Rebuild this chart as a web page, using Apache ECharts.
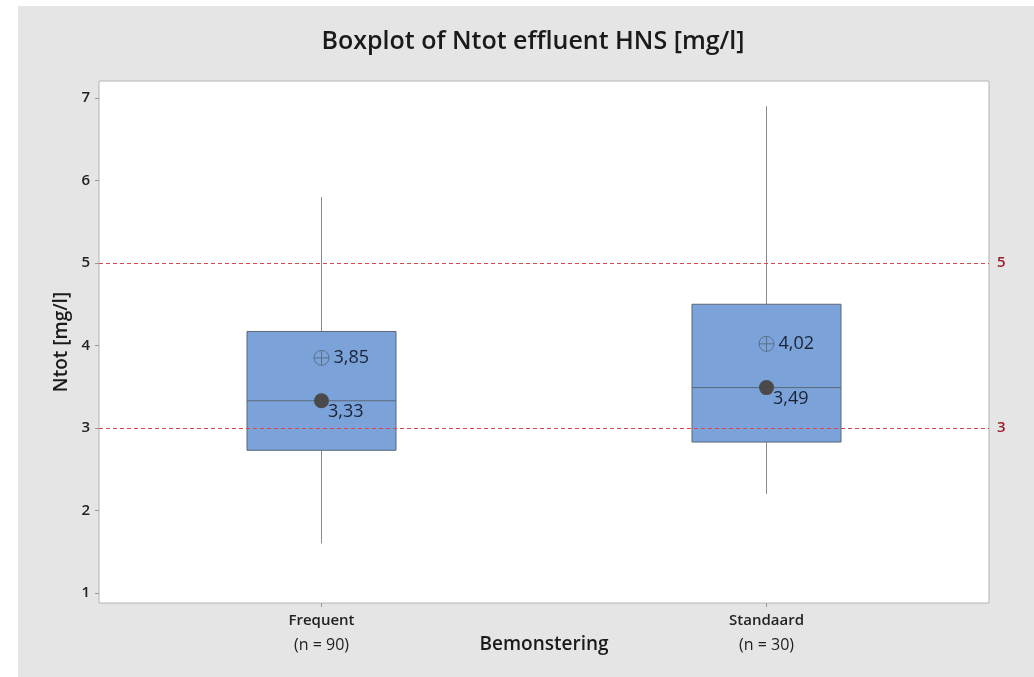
<!DOCTYPE html>
<html>
<head>
<meta charset="utf-8">
<script src="https://cdn.jsdelivr.net/npm/echarts@6.0.0/dist/echarts.min.js"></script>
<style>
  html, body { margin: 0; padding: 0; background: #ffffff; }
  #main { width: 1034px; height: 677px; }
</style>
</head>
<body>
<div id="main"></div>
<script>
// data
var groups = ['Frequent', 'Standaard'];
var counts = [90, 30];
// [min, Q1, median, Q3, max]
var boxData = [
  [1.6, 2.73, 3.33, 4.17, 5.8],
  [2.2, 2.83, 3.49, 4.5, 6.9]
];
var means = [3.85, 4.02];
var medians = [3.33, 3.49];
var refLines = [5, 3];
var yTicks = [1, 2, 3, 4, 5, 6, 7];

var font = "'Open Sans', 'Noto Sans', sans-serif";
var chart = echarts.init(document.getElementById('main'));

function comma(v) { return v.toFixed(2).replace('.', ','); }

// box drawn by hand so the whiskers have no end caps
function renderBox(params, api) {
  var x = api.value(0);
  var lo = api.coord([x, api.value(1)]);
  var q1 = api.coord([x, api.value(2)]);
  var med = api.coord([x, api.value(3)]);
  var q3 = api.coord([x, api.value(4)]);
  var hi = api.coord([x, api.value(5)]);
  var half = 74.5;
  var whisker = { stroke: '#8a8a8a', lineWidth: 1 };
  return {
    type: 'group',
    children: [
      { type: 'line', shape: { x1: hi[0], y1: hi[1], x2: q3[0], y2: q3[1] }, style: whisker },
      { type: 'line', shape: { x1: q1[0], y1: q1[1], x2: lo[0], y2: lo[1] }, style: whisker },
      {
        type: 'rect',
        shape: { x: q3[0] - half, y: q3[1], width: half * 2, height: q1[1] - q3[1] },
        style: { fill: '#7ba3d9', stroke: '#5b6678', lineWidth: 1 }
      },
      {
        type: 'line',
        shape: { x1: med[0] - half, y1: med[1], x2: med[0] + half, y2: med[1] },
        style: { stroke: '#5b6678', lineWidth: 1 }
      }
    ]
  };
}

var refSeries = refLines.map(function (v) {
  return {
    type: 'line',
    data: [],
    silent: true,
    markLine: {
      silent: true,
      symbol: 'none',
      animation: false,
      lineStyle: { type: [4, 3], color: '#e0464e', width: 1, opacity: 1 },
      label: {
        position: 'end', distance: 8,
        fontFamily: font, fontSize: 15, fontWeight: 600, color: '#9b1c2a',
        formatter: String(v)
      },
      data: [{ yAxis: v }]
    }
  };
});

var option = {
  backgroundColor: '#ffffff',
  animation: false,
  graphic: [{
    type: 'rect',
    z: -10,
    shape: { x: 18, y: 6, width: 1016, height: 671 },
    style: { fill: '#e5e5e5' }
  }],
  title: {
    text: 'Boxplot of Ntot effluent HNS [mg/l]',
    left: 528,
    textAlign: 'center',
    top: 24,
    textStyle: { fontFamily: font, fontSize: 25, fontWeight: 600, color: '#1a1a1a' }
  },
  grid: {
    left: 99, right: 45, top: 81, bottom: 74,
    outerBoundsMode: 'none',
    containLabel: false,
    show: true, backgroundColor: '#ffffff', borderColor: '#b4b4b4', borderWidth: 1
  },
  xAxis: {
    type: 'category',
    data: groups,
    axisLine: { show: false },
    axisTick: { show: true, alignWithLabel: true, length: 4, lineStyle: { color: '#999' } },
    axisLabel: {
      margin: 5,
      formatter: function (v, i) { return '{a|' + v + '}\n{b|(n = ' + counts[i] + ')}'; },
      rich: {
        a: { fontFamily: font, fontSize: 15, fontWeight: 600, color: '#222', lineHeight: 25 },
        b: { fontFamily: font, fontSize: 16, color: '#222', lineHeight: 25 }
      }
    },
    name: 'Bemonstering',
    nameLocation: 'middle',
    nameGap: 32,
    nameMoveOverlap: false,
    nameTextStyle: { fontFamily: font, fontSize: 19, fontWeight: 600, color: '#1a1a1a' }
  },
  yAxis: {
    type: 'value',
    min: 0.879,
    max: 7.206,
    splitLine: { show: false },
    axisLine: { show: false },
    axisTick: { show: true, length: 4, customValues: yTicks, lineStyle: { color: '#999' } },
    axisLabel: {
      customValues: yTicks, margin: 9,
      fontFamily: font, fontSize: 15, fontWeight: 600, color: '#222'
    },
    name: 'Ntot [mg/l]',
    nameLocation: 'middle',
    nameGap: 28,
    nameMoveOverlap: false,
    nameTextStyle: { fontFamily: font, fontSize: 19, fontWeight: 600, color: '#1a1a1a' }
  },
  series: [
    {
      type: 'custom',
      renderItem: renderBox,
      data: boxData.map(function (b, i) { return [i].concat(b); }),
      encode: { x: 0, y: [1, 2, 3, 4, 5] }
    }
  ].concat(refSeries).concat([
    {
      type: 'scatter',
      data: medians.map(function (v, i) { return [i, v]; }),
      symbol: 'circle',
      symbolSize: 15,
      itemStyle: { color: '#4a4a4a', opacity: 1 },
      label: {
        show: true, position: 'right', offset: [-6, 11],
        fontFamily: font, fontSize: 18, color: '#1a2236',
        formatter: function (p) { return comma(p.value[1]); }
      },
      z: 5
    },
    {
      type: 'scatter',
      data: means.map(function (v, i) { return [i, v]; }),
      symbol: 'path://M0,10A10,10,0,1,1,20,10A10,10,0,1,1,0,10ZM10,0L10,20M0,10L20,10',
      symbolSize: 15,
      itemStyle: { color: 'none', borderColor: '#5e6f8c', borderWidth: 1, opacity: 1 },
      label: {
        show: true, position: 'right', distance: 2,
        fontFamily: font, fontSize: 18, color: '#1a2236',
        formatter: function (p) { return comma(p.value[1]); }
      },
      z: 5
    }
  ])
};

chart.setOption(option);
</script>
</body>
</html>
